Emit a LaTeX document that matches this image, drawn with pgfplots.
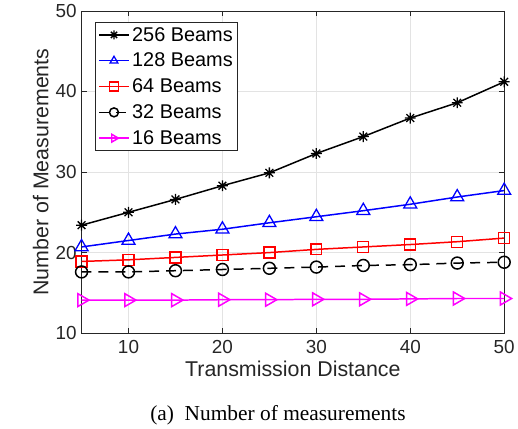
\documentclass[border=0pt]{standalone}
\usepackage{fontspec}
\setmainfont{Liberation Sans}
\newfontfamily\capfont{Liberation Serif}
\usepackage{pgfplots}
\pgfplotsset{compat=1.18}
\definecolor{mgray}{gray}{0.15}
\definecolor{mmag}{RGB}{255,0,255}
\definecolor{mblue}{RGB}{0,0,255}
\definecolor{mred}{RGB}{255,0,0}
% matlab style '*' marker: plus and cross
\pgfdeclareplotmark{mstar}{%
  \pgfpathmoveto{\pgfqpoint{-\pgfplotmarksize}{0pt}}\pgfpathlineto{\pgfqpoint{\pgfplotmarksize}{0pt}}%
  \pgfpathmoveto{\pgfqpoint{0pt}{-\pgfplotmarksize}}\pgfpathlineto{\pgfqpoint{0pt}{\pgfplotmarksize}}%
  \pgfpathmoveto{\pgfqpoint{-0.707\pgfplotmarksize}{-0.707\pgfplotmarksize}}\pgfpathlineto{\pgfqpoint{0.707\pgfplotmarksize}{0.707\pgfplotmarksize}}%
  \pgfpathmoveto{\pgfqpoint{-0.707\pgfplotmarksize}{0.707\pgfplotmarksize}}\pgfpathlineto{\pgfqpoint{0.707\pgfplotmarksize}{-0.707\pgfplotmarksize}}%
  \pgfusepathqstroke}
\begin{document}
\begin{tikzpicture}
\begin{axis}[scale only axis,width=425pt,height=324pt,
xmin=5,xmax=50,ymin=10,ymax=50,
xtick={10,20,30,40,50},ytick={10,20,30,40,50},
grid=major,grid style={gray!22,line width=0.6pt},
axis line style={mgray,line width=0.7pt},
tick style={mgray,line width=0.7pt},major tick length=5pt,
tick align=inside,
xlabel={Transmission Distance},ylabel={Number of Measurements},
label style={font=\fontsize{21.5}{24}\selectfont,text=mgray},
tick label style={font=\fontsize{19}{22}\selectfont,text=mgray},
xticklabel style={yshift=-4pt},yticklabel style={xshift=-1.5pt},
/pgf/number format/assume math mode=true,
legend style={at={(0.033,0.966)},anchor=north west,draw=mgray,line width=0.7pt,
font=\fontsize{20}{22}\selectfont,row sep=5.5pt,inner sep=2.5pt,
nodes={inner sep=2.5pt}},
legend cell align=left,
legend image code/.code={\draw[mark repeat=2,mark phase=2,#1,mark size=4.5pt] plot coordinates {(0pt,0pt)(15pt,0pt)(30pt,0pt)};},
every axis plot/.append style={line width=1.5pt,mark options={line width=1.3pt}}]
\addplot[black,mark=mstar,mark size=5.5pt] coordinates {(5,23.4)(10,25.0)(15,26.6)(20,28.3)(25,29.9)(30,32.3)(35,34.4)(40,36.7)(45,38.6)(50,41.2)};
\addplot[mblue,mark=triangle,mark size=7.5pt] coordinates {(5,20.7)(10,21.5)(15,22.3)(20,22.9)(25,23.7)(30,24.45)(35,25.2)(40,26.0)(45,26.9)(50,27.7)};
\addplot[mred,mark=square,mark size=5.5pt] coordinates {(5,18.9)(10,19.1)(15,19.4)(20,19.7)(25,20.0)(30,20.4)(35,20.7)(40,21.0)(45,21.35)(50,21.8)};
\addplot[black,dash pattern=on 10pt off 7pt,mark=o,mark size=6pt,mark options={solid}] coordinates {(5,17.6)(10,17.6)(15,17.75)(20,17.9)(25,18.05)(30,18.2)(35,18.4)(40,18.5)(45,18.7)(50,18.8)};
\addplot[mmag,mark=triangle,mark size=7.5pt,mark options={rotate=-90}] coordinates {(5,14.1)(10,14.1)(15,14.1)(20,14.15)(25,14.15)(30,14.2)(35,14.2)(40,14.25)(45,14.3)(50,14.3)};
\legend{256 Beams,128 Beams,64 Beams,32 Beams,16 Beams}
\end{axis}
\path ([xshift=-82pt,yshift=-95pt]current axis.south west) ([xshift=11pt,yshift=11pt]current axis.north east);
\node[anchor=base,font=\capfont\fontsize{21.5}{24}\selectfont] at ([xshift=-15pt,yshift=-88pt]current axis.south) {(a)\ \ Number of measurements};
\end{tikzpicture}
\end{document}
